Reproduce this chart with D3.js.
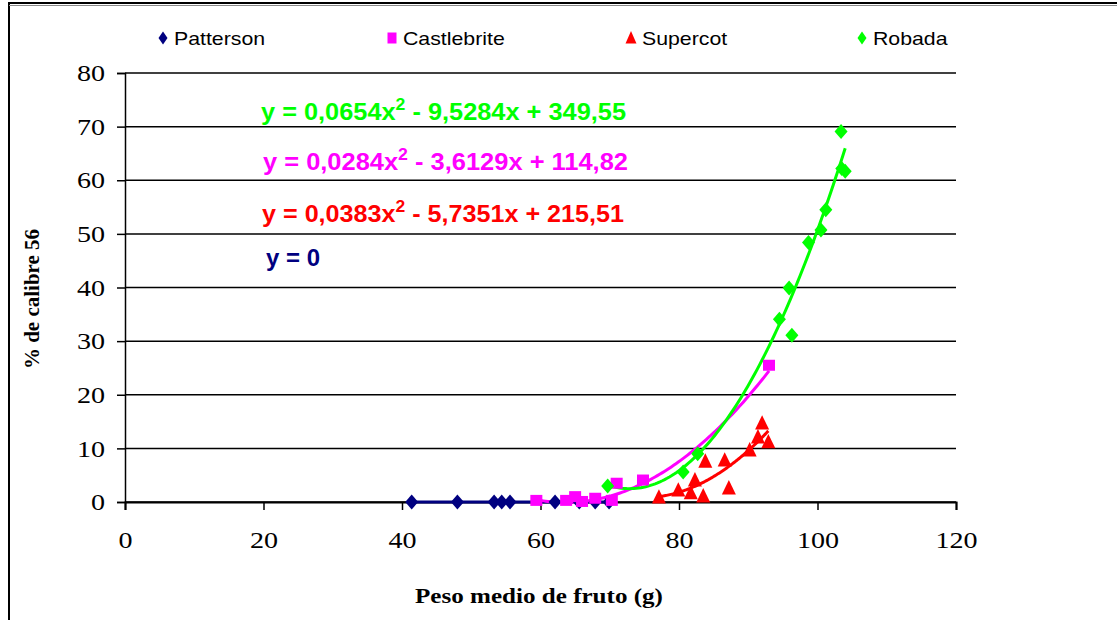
<!DOCTYPE html>
<html>
<head>
<meta charset="utf-8">
<script src="https://cdn.jsdelivr.net/npm/d3@7"></script>
<style>
  html, body { margin: 0; padding: 0; background: #fff; }
  svg { display: block; }
</style>
</head>
<body>
<svg id="chart" width="1117" height="620"></svg>
<script>
// Peso medio de fruto (g) vs % de calibre 56, per variety
const seriesNames = ["Patterson", "Castlebrite", "Supercot", "Robada"];
const seriesColors = ["#000080", "#FF00FF", "#FF0000", "#00FF00"];
const seriesSymbols = ["diamond", "square", "triangle", "diamond"];

const pattersonX = [41.4, 48.0, 53.3, 54.4, 55.6, 62.1, 65.6, 67.9, 69.9];
const pattersonY = [0, 0, 0, 0, 0, 0, 0, 0, 0];

const castlebriteX = [59.4, 63.7, 65.0, 66.0, 67.9, 70.3, 71.0, 74.8, 93.0];
const castlebriteY = [0.3, 0.3, 1.0, 0.1, 0.7, 0.3, 3.5, 4.1, 25.5];

const supercotX = [77.1, 79.9, 81.7, 82.3, 83.5, 83.8, 86.6, 87.2, 90.2, 91.4, 92.0, 92.9];
const supercotY = [0.9, 2.2, 1.7, 4.1, 1.1, 7.6, 7.8, 2.6, 9.7, 12.1, 14.7, 11.2];

const robadaX = [69.7, 80.6, 82.7, 94.5, 95.9, 96.3, 98.7, 100.5, 101.2, 103.4, 103.5, 104.0];
const robadaY = [3.0, 5.6, 9.0, 34.1, 39.9, 31.1, 48.4, 50.7, 54.5, 69.1, 62.2, 61.7];

// Polynomial trendline coefficients [a, b, c] for y = a·x² + b·x + c
const trendCoefs = [
  [0, 0, 0],
  [0.0284, -3.6129, 114.82],
  [0.0383, -5.7351, 215.51],
  [0.0654, -9.5284, 349.55]
];
const trendLabels = [
  ["y = 0", null, ""],
  ["y = 0,0284x", "2", " - 3,6129x + 114,82"],
  ["y = 0,0383x", "2", " - 5,7351x + 215,51"],
  ["y = 0,0654x", "2", " - 9,5284x + 349,55"]
];

const xTicks = [0, 20, 40, 60, 80, 100, 120];
const yTicks = [0, 10, 20, 30, 40, 50, 60, 70, 80];

const seriesX = [pattersonX, castlebriteX, supercotX, robadaX];
const seriesY = [pattersonY, castlebriteY, supercotY, robadaY];

const SERIF = "'Liberation Serif', 'Times New Roman', serif";
const SANS = "'Liberation Sans', Arial, sans-serif";
const WIDEN = 1.17; // glyphs are drawn slightly wide

// widen a text element horizontally while keeping its anchor
function widen(sel, f) {
  sel.each(function () {
    const len = this.getComputedTextLength();
    d3.select(this).attr("textLength", len * f).attr("lengthAdjust", "spacingAndGlyphs");
  });
}

const svg = d3.select("#chart");

// outer frame
svg.append("rect")
  .attr("x", 9).attr("y", 3)
  .attr("width", 1200).attr("height", 700)
  .attr("fill", "none").attr("stroke", "#000").attr("stroke-width", 2);
svg.append("line")
  .attr("x1", 9).attr("x2", 1117).attr("y1", 5.5).attr("y2", 5.5)
  .attr("stroke", "#888").attr("stroke-width", 1);

const x = d3.scaleLinear().domain([0, 120]).range([125, 956]);
const y = d3.scaleLinear().domain([0, 80]).range([502, 73]);

// horizontal gridlines
svg.append("g")
  .selectAll("line")
  .data(yTicks)
  .join("line")
  .attr("x1", x(0)).attr("x2", x(120))
  .attr("y1", d => y(d)).attr("y2", d => y(d))
  .attr("stroke", "#000").attr("stroke-width", 1.5);

// y axis
const yAxis = svg.append("g")
  .attr("transform", `translate(${x(0)},0)`)
  .call(d3.axisLeft(y).tickValues(yTicks).tickSize(8).tickPadding(12).tickFormat(d3.format("d")));
yAxis.select(".domain").attr("stroke", "#000").attr("stroke-width", 1.5);
yAxis.selectAll(".tick line").attr("stroke", "#000").attr("stroke-width", 1.5);
yAxis.selectAll(".tick text")
  .attr("font-family", SERIF)
  .attr("font-size", 24).attr("fill", "#000")
  .call(widen, WIDEN);

// x axis
const xAxis = svg.append("g")
  .attr("transform", `translate(0,${y(0)})`)
  .call(d3.axisBottom(x).tickValues(xTicks).tickSize(8).tickPadding(21).tickFormat(d3.format("d")));
xAxis.select(".domain").attr("stroke", "#000").attr("stroke-width", 2);
xAxis.selectAll(".tick line").attr("stroke", "#000").attr("stroke-width", 1.5);
xAxis.selectAll(".tick text")
  .attr("font-family", SERIF)
  .attr("font-size", 24).attr("fill", "#000")
  .call(widen, WIDEN);

// axis titles
svg.append("text")
  .attr("x", 539).attr("y", 603)
  .attr("text-anchor", "middle")
  .attr("font-family", SERIF)
  .attr("font-weight", "bold").attr("font-size", 22)
  .text("Peso medio de fruto (g)")
  .call(widen, 1.14);
svg.append("text")
  .attr("transform", "translate(39,299) rotate(-90)")
  .attr("text-anchor", "middle")
  .attr("font-family", SERIF)
  .attr("font-weight", "bold").attr("font-size", 21)
  .text("% de calibre 56");

// trendlines, sampled over each series' x range
const line = d3.line().x(d => x(d[0])).y(d => y(d[1]));
seriesNames.forEach((name, i) => {
  const [a, b, c] = trendCoefs[i];
  const [lo, hi] = d3.extent(seriesX[i]);
  const pts = d3.range(0, 101).map(k => {
    const xv = lo + (hi - lo) * k / 100;
    return [xv, a * xv * xv + b * xv + c];
  });
  svg.append("path")
    .datum(pts)
    .attr("d", line)
    .attr("fill", "none")
    .attr("stroke", seriesColors[i])
    .attr("stroke-width", 3);
});

// marker shapes (half-width, half-height)
function markerPath(type, w, h) {
  if (type === "diamond") return `M0,${-h}L${w},0L0,${h}L${-w},0Z`;
  if (type === "square") return `M${-w},${-h}H${w}V${h}H${-w}Z`;
  return `M0,${-h}L${w},${h * 0.8}L${-w},${h * 0.8}Z`;
}
const markerDims = { diamond: [6.5, 7.5], square: [6, 5.5], triangle: [7, 8] };

[0, 1, 2, 3].forEach(i => {
  const pts = seriesX[i].map((xv, k) => [xv, seriesY[i][k]]);
  const sym = seriesSymbols[i];
  svg.append("g")
    .selectAll("path")
    .data(pts)
    .join("path")
    .attr("transform", d => `translate(${x(d[0])},${y(d[1])})`)
    .attr("d", markerPath(sym, ...markerDims[sym]))
    .attr("fill", seriesColors[i]);
});

// trendline equations
const eqPos = [[266, 266], [263, 170], [262, 222], [261, 120]];
const eqWidth = [54, 365, 362, 365];
[3, 1, 2, 0].forEach(i => {
  const [main, sup, rest] = trendLabels[i];
  const t = svg.append("text")
    .attr("x", eqPos[i][0]).attr("y", eqPos[i][1])
    .attr("font-family", SANS)
    .attr("font-weight", "bold").attr("font-size", 23)
    .attr("fill", seriesColors[i]);
  t.append("tspan").text(main);
  if (sup) {
    t.append("tspan").attr("dy", -10).attr("font-size", 16).text(sup);
    t.append("tspan").attr("dy", 10).text(rest);
  }
  t.attr("textLength", eqWidth[i]).attr("lengthAdjust", "spacingAndGlyphs");
});

// legend
const legendX = [163, 392, 631, 862];
const legendDims = { diamond: [4.5, 6.5], square: [4.5, 5.5], triangle: [5.5, 7] };
seriesNames.forEach((name, i) => {
  const g = svg.append("g").attr("transform", `translate(${legendX[i]},38)`);
  const sym = seriesSymbols[i];
  g.append("path")
    .attr("d", markerPath(sym, ...legendDims[sym]))
    .attr("fill", seriesColors[i]);
  g.append("text")
    .attr("x", 11).attr("y", 7)
    .attr("font-family", SANS)
    .attr("font-size", 19)
    .text(name)
    .call(widen, 1.12);
});
</script>
</body>
</html>
